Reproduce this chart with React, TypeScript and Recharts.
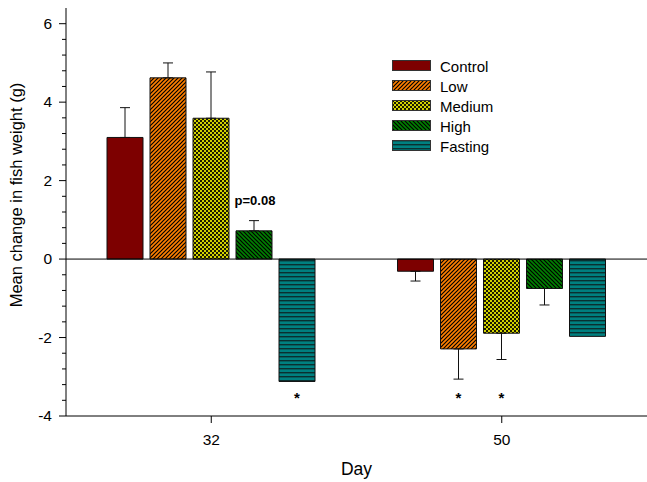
import React from 'react';
import { BarChart, Bar, XAxis, YAxis, ErrorBar, ReferenceLine, LabelList } from 'recharts';

const FONT = '"Liberation Sans", Arial, sans-serif';

// days on the x axis
const days = ['32', '50'];

// group means (g)
const control = [3.1, -0.31];
const low = [4.62, -2.29];
const medium = [3.59, -1.89];
const high = [0.72, -0.75];
const fasting = [-3.12, -1.97];

// standard errors (drawn away from zero only)
const controlSe = [0.76, 0.25];
const lowSe = [0.38, 0.77];
const mediumSe = [1.18, 0.67];
const highSe = [0.26, 0.42];

// significance marks
const lowNote = ['', '*'];
const mediumNote = ['', '*'];
const highNote = ['p=0.08', ''];
const fastingNote = ['*', ''];

const yTicks = [-4, -3.6, -3.2, -2.8, -2.4, -2, -1.6, -1.2, -0.8, -0.4, 0, 0.4, 0.8, 1.2, 1.6, 2, 2.4, 2.8, 3.2, 3.6, 4, 4.4, 4.8, 5.2, 5.6, 6];

const oneSided = (v: number, se: number) => (v >= 0 ? [0, se] : [se, 0]);

const series = [
  { key: 'control', name: 'Control', fill: 'url(#pControl)', values: control, se: controlSe, notes: null as string[] | null },
  { key: 'low', name: 'Low', fill: 'url(#pLow)', values: low, se: lowSe, notes: lowNote },
  { key: 'medium', name: 'Medium', fill: 'url(#pMedium)', values: medium, se: mediumSe, notes: mediumNote },
  { key: 'high', name: 'High', fill: 'url(#pHigh)', values: high, se: highSe, notes: highNote },
  { key: 'fasting', name: 'Fasting', fill: 'url(#pFasting)', values: fasting, se: null as number[] | null, notes: fastingNote },
];

const rows = days.map((day, i) => {
  const row: any = { day };
  series.forEach((s) => {
    row[s.key] = s.values[i];
    if (s.se) row[s.key + 'Err'] = oneSided(s.values[i], s.se[i]);
    if (s.notes) row[s.key + 'Note'] = s.notes[i];
  });
  return row;
});

const Patterns = () => (
  <svg width={0} height={0} style={{ position: 'absolute' }}>
    <defs>
      <pattern id="pControl" width="4" height="4" patternUnits="userSpaceOnUse">
        <rect width="4" height="4" fill="#7d0000" />
      </pattern>
      <pattern id="pLow" width="4" height="4" patternUnits="userSpaceOnUse">
        <rect width="4" height="4" fill="#ff8000" />
        <path d="M-1,1 l2,-2 M0,4 l4,-4 M3,5 l2,-2" stroke="#000" strokeWidth="1.2" />
      </pattern>
      <pattern id="pMedium" width="4" height="4" patternUnits="userSpaceOnUse">
        <rect width="4" height="4" fill="#d2d200" />
        <rect width="2" height="2" fill="#1a1a00" />
        <rect x="2" y="2" width="2" height="2" fill="#1a1a00" />
      </pattern>
      <pattern id="pHigh" width="4" height="4" patternUnits="userSpaceOnUse">
        <rect width="4" height="4" fill="#008000" />
        <path d="M-1,3 l2,2 M0,0 l4,4 M3,-1 l2,2" stroke="#000" strokeWidth="1.2" />
      </pattern>
      <pattern id="pFasting" width="4" height="4" patternUnits="userSpaceOnUse">
        <rect width="4" height="4" fill="#008080" />
        <rect width="4" height="1.4" fill="#0a3030" />
      </pattern>
    </defs>
  </svg>
);

const YTick = (props: any) => {
  const { x, y, payload } = props;
  const v = payload.value;
  const axisX = x + 14;
  const major = Math.abs(v / 2 - Math.round(v / 2)) < 1e-6;
  return (
    <g>
      <line x1={major ? axisX - 7 : axisX - 4} x2={axisX} y1={y} y2={y} stroke="#000" />
      {major && (
        <text x={x} y={y} dy={5} textAnchor="end" fontSize={15.5} fontFamily={FONT} fill="#000">
          {v}
        </text>
      )}
    </g>
  );
};

const makeNote = (s: (typeof series)[number]) => (p: any) => {
  const text = p.value;
  if (!text) return null;
  const vb = p.viewBox || p;
  const bx = vb.x ?? p.x;
  const by = vb.y ?? p.y;
  const bw = vb.width ?? p.width;
  const bh = vb.height ?? p.height;
  const v = s.values[p.index];
  const top = Math.min(by, by + bh);
  const bot = Math.max(by, by + bh);
  const perUnit = (bot - top) / Math.abs(v);
  const zeroY = v >= 0 ? bot : top;
  const cx = bx + bw / 2;
  if (text === '*') {
    return (
      <text x={cx} y={zeroY + 3.66 * perUnit} textAnchor="middle" fontSize={15} fontWeight="bold" fontFamily={FONT} fill="#000">
        *
      </text>
    );
  }
  const reach = v + (s.se ? s.se[p.index] : 0);
  return (
    <text x={cx + 1} y={zeroY - reach * perUnit - 16} textAnchor="middle" fontSize={13} fontWeight="bold" fontFamily={FONT} fill="#000">
      {text}
    </text>
  );
};

const YLabel = (p: any) => {
  const vb = p.viewBox;
  const cx = vb.x + 22;
  const cy = vb.y + vb.height / 2 - 17;
  return (
    <text x={cx} y={cy} transform={`rotate(-90 ${cx} ${cy})`} textAnchor="middle" fontSize={16.5} fontFamily={FONT} fill="#000">
      Mean change in fish weight (g)
    </text>
  );
};

const XLabel = (p: any) => {
  const vb = p.viewBox;
  return (
    <text x={vb.x + vb.width / 2} y={vb.y + 59} textAnchor="middle" fontSize={17.5} fontFamily={FONT} fill="#000">
      Day
    </text>
  );
};

export default function App() {
  return (
    <div style={{ position: 'absolute', left: 0, top: 0, width: 647, height: 482, background: '#fff' }}>
      <Patterns />
      <BarChart
        width={647}
        height={482}
        data={rows}
        margin={{ top: 8, right: 0, bottom: 0, left: 0 }}
        barSize={36}
        barGap={7}
      >
        <XAxis
          dataKey="day"
          height={66}
          tickSize={7}
          tickMargin={11}
          axisLine={{ stroke: '#000' }}
          tickLine={{ stroke: '#000' }}
          tick={{ fill: '#000', fontSize: 15.5, fontFamily: FONT }}
          label={{ content: XLabel }}
        />
        <YAxis
          type="number"
          domain={[-4, 6.4]}
          ticks={yTicks}
          interval={0}
          allowDataOverflow
          width={66}
          tickSize={7}
          tickMargin={7}
          tickLine={false}
          axisLine={{ stroke: '#000' }}
          tick={<YTick />}
          label={{ content: YLabel }}
        />
        <ReferenceLine y={0} stroke="#000" strokeWidth={1} />
        {series.map((s) => (
          <Bar key={s.key} dataKey={s.key} name={s.name} fill={s.fill} stroke="#111" strokeWidth={1} isAnimationActive={false}>
            {s.se && <ErrorBar dataKey={s.key + 'Err'} width={5} stroke="#111" strokeWidth={1} />}
            {s.notes && <LabelList dataKey={s.key + 'Note'} content={makeNote(s)} />}
          </Bar>
        ))}
      </BarChart>
      <div style={{ position: 'absolute', left: 392, top: 56, fontFamily: FONT, fontSize: 15, color: '#000' }}>
        {series.map((s) => (
          <div key={s.key} style={{ display: 'flex', alignItems: 'center', height: 20 }}>
            <svg width={40} height={12}>
              <rect x={0.5} y={0.5} width={38} height={10} fill={s.fill} stroke="#333" />
            </svg>
            <span style={{ marginLeft: 8 }}>{s.name}</span>
          </div>
        ))}
      </div>
    </div>
  );
}
